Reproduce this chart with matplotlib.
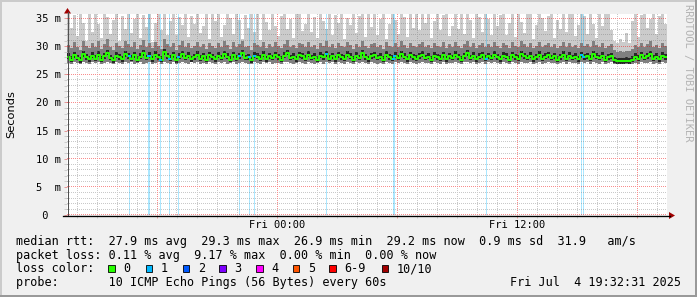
import numpy as np
import matplotlib
matplotlib.use('Agg')
import matplotlib.pyplot as plt
from matplotlib.patches import Rectangle, Polygon
from matplotlib.lines import Line2D

plt.rcParams['font.family'] = ['DejaVu Sans Mono']

# ---------------- data ----------------
bin_hours = 0.15  # 9 minutes per smoke column
start_label = "Thu 13:30"

median_ms = [
    28.1,27.6,28.4,27.9,27.5,28.6,28.0,27.7,28.3,27.8,
    28.5,27.6,28.2,28.8,27.9,27.5,28.3,28.0,27.7,28.6,
    28.2,27.8,28.4,27.6,28.1,28.7,27.9,28.3,27.7,28.5,
    28.0,27.6,28.9,28.2,27.8,28.4,27.5,28.1,28.6,27.9,
    28.3,27.7,28.0,28.5,27.8,28.2,27.6,28.4,28.0,27.7,
    28.3,27.9,28.6,28.1,27.6,28.4,27.8,28.2,28.7,27.9,
    28.0,27.5,28.3,28.1,27.8,28.5,27.7,28.2,27.9,28.4,
    28.0,27.6,28.3,28.8,27.9,28.1,27.7,28.4,28.2,27.8,
    28.5,27.9,28.1,27.6,28.3,28.0,28.6,27.8,28.2,27.7,
    28.4,28.0,27.8,28.5,28.1,27.6,28.3,27.9,28.7,28.0,
    27.7,28.2,28.4,27.9,28.1,27.6,28.5,28.0,27.8,28.3,
    27.9,28.6,28.1,27.7,28.4,28.0,27.8,28.2,28.5,27.9,
    28.1,27.6,28.3,28.0,27.8,28.4,27.7,28.2,27.9,28.5,
    28.0,27.6,28.2,28.7,27.9,28.3,27.7,28.1,28.4,27.8,
    28.2,27.9,28.5,28.0,27.7,28.3,28.1,27.6,28.4,28.0,
    27.8,28.6,28.2,27.9,28.3,27.7,28.0,28.5,27.8,28.1,
    28.4,27.9,28.2,27.6,28.0,28.5,27.8,28.3,27.9,28.1,
    27.7,28.4,28.0,28.2,27.8,28.6,28.1,27.9,28.3,27.6,
    28.0,28.2,27.5,27.3,27.3,27.3,27.4,27.3,27.6,28.1,
    27.8,28.4,27.9,28.2,28.6,27.8,28.1,27.7,28.3,28.0,
]
min_ms = [
    27.0,26.9,27.1,27.0,26.8,27.2,27.0,26.9,27.1,27.0,
    27.1,26.9,27.0,27.2,27.0,26.8,27.1,27.0,26.9,27.2,
    27.0,27.1,26.9,27.0,27.2,26.9,27.0,27.1,26.8,27.0,
    27.1,26.9,27.2,27.0,26.9,27.1,26.8,27.0,27.2,27.0,
    26.9,27.1,27.0,27.2,26.9,27.0,26.8,27.1,27.0,26.9,
    27.1,27.0,27.2,26.9,27.0,27.1,26.9,27.0,27.2,27.0,
    26.9,26.8,27.1,27.0,26.9,27.2,27.0,27.1,26.9,27.0,
    27.0,26.9,27.1,27.2,27.0,26.9,27.0,27.1,27.0,26.9,
    27.2,27.0,26.9,27.0,27.1,26.9,27.2,27.0,27.1,26.9,
    27.1,27.0,26.9,27.2,27.0,26.8,27.1,27.0,27.2,27.0,
    26.9,27.1,27.0,26.9,27.0,26.8,27.1,27.0,26.9,27.1,
    27.0,27.2,27.0,26.9,27.1,27.0,26.9,27.0,27.2,27.0,
    27.0,26.8,27.1,27.0,26.9,27.1,26.9,27.0,27.0,27.2,
    27.0,26.9,27.1,27.2,27.0,27.1,26.9,27.0,27.1,26.9,
    27.1,27.0,27.2,27.0,26.9,27.1,27.0,26.8,27.1,27.0,
    26.9,27.2,27.0,27.0,27.1,26.9,27.0,27.2,26.9,27.0,
    27.1,27.0,27.0,26.8,27.0,27.2,26.9,27.1,27.0,27.0,
    26.9,27.1,27.0,27.1,26.9,27.2,27.0,26.9,27.1,26.8,
    27.0,27.1,26.9,26.9,26.9,26.9,26.9,26.9,26.9,27.0,
    26.9,27.1,27.0,27.0,27.2,26.9,27.0,26.9,27.1,27.0,
]
upper_ms = [
    30.2,29.6,30.8,29.9,29.4,31.0,30.1,29.7,30.5,29.8,
    30.9,29.5,30.3,31.2,29.8,29.4,30.6,30.0,29.6,30.9,
    30.4,29.8,30.7,29.5,30.2,31.1,29.9,30.5,29.6,30.8,
    30.0,29.5,31.3,30.4,29.8,30.6,29.4,30.2,30.9,29.9,
    30.5,29.7,30.1,30.8,29.8,30.3,29.5,30.6,30.0,29.7,
    30.5,29.9,30.9,30.2,29.5,30.7,29.8,30.3,31.0,29.9,
    30.1,29.4,30.5,30.2,29.8,30.8,29.6,30.3,29.9,30.7,
    30.0,29.6,30.4,31.1,29.9,30.2,29.7,30.6,30.3,29.8,
    30.8,29.9,30.2,29.5,30.5,30.0,30.9,29.8,30.3,29.7,
    30.6,30.0,29.8,30.8,30.2,29.5,30.4,29.9,31.0,30.1,
    29.7,30.3,30.6,29.9,30.2,29.5,30.8,30.0,29.8,30.5,
    29.9,30.9,30.2,29.7,30.6,30.0,29.8,30.3,30.8,29.9,
    30.2,29.6,30.5,30.0,29.8,30.7,29.7,30.3,29.9,30.8,
    30.0,29.6,30.3,31.0,29.9,30.5,29.7,30.2,30.6,29.8,
    30.3,29.9,30.8,30.0,29.7,30.5,30.2,29.6,30.7,30.0,
    29.8,30.9,30.3,29.9,30.5,29.7,30.0,30.8,29.8,30.2,
    30.6,29.9,30.3,29.6,30.0,30.8,29.8,30.5,29.9,30.2,
    29.7,30.6,30.0,30.3,29.8,30.9,30.2,29.9,30.5,29.6,
    30.0,30.3,29.4,29.0,29.1,29.0,29.2,29.1,29.5,30.2,
    29.8,30.6,29.9,30.3,30.9,29.8,30.2,29.7,30.5,30.0,
]
max_ms = [
    36.0,33.2,35.5,31.8,36.0,34.1,30.9,35.8,32.6,36.0,
    33.9,31.4,36.0,35.2,32.1,34.7,36.0,31.0,35.4,33.0,
    36.0,32.3,34.9,36.0,31.5,35.6,33.4,36.0,30.8,34.2,
    35.9,32.8,36.0,31.9,34.5,36.0,32.0,35.1,33.7,36.0,
    31.6,35.3,34.0,36.0,32.4,33.5,36.0,31.2,35.7,34.4,
    36.0,31.7,33.8,36.0,35.0,32.2,36.0,34.6,31.3,35.5,
    33.3,36.0,32.5,35.8,31.1,36.0,34.3,32.9,36.0,33.6,
    31.8,35.4,36.0,33.1,34.8,31.4,36.0,35.9,32.7,34.0,
    36.0,32.6,35.2,31.5,36.0,34.5,33.0,36.0,31.9,35.6,
    34.1,36.0,31.2,35.0,33.7,36.0,32.3,35.3,36.0,31.6,
    35.7,33.4,36.0,32.0,34.9,36.0,31.3,33.9,36.0,34.6,
    32.2,36.0,35.1,31.7,36.0,33.2,35.8,32.8,36.0,34.2,
    36.0,31.5,34.4,36.0,32.9,35.5,36.0,31.8,33.6,36.0,
    33.0,35.9,32.1,36.0,34.7,31.4,36.0,35.2,32.5,36.0,
    34.8,31.9,36.0,33.5,35.6,36.0,32.0,34.1,36.0,31.6,
    36.0,34.3,32.4,35.7,36.0,31.2,33.8,36.0,35.0,32.7,
    35.4,36.0,31.5,34.6,33.1,36.0,32.6,35.9,36.0,31.8,
    33.7,36.0,35.3,32.2,36.0,34.0,31.4,36.0,33.5,35.8,
    36.0,32.9,31.0,30.5,31.2,30.8,32.4,30.6,34.5,36.0,
    31.7,35.6,36.0,33.3,34.9,36.0,32.1,35.4,36.0,33.9,
]
# hours after Thu 13:30 at which 1 of 10 pings was lost
loss_hours = [3.10, 4.05, 4.10, 4.65, 5.10, 5.55, 8.60, 9.10, 9.35,
              12.95, 16.30, 16.35, 20.95, 25.70, 25.80]
loss_counts = [1] * len(loss_hours)

major_x_hours = [4.5, 10.5, 16.5, 22.5, 28.5]
major_x_labels = ['', 'Fri 00:00', '', 'Fri 12:00', '']
minor_x_hours = list(np.arange(0.5, 30, 1.0))
y_major = [0, 5, 10, 15, 20, 25, 30, 35]
y_labels = [' 0', '5  m', '10 m', '15 m', '20 m', '25 m', '30 m', '35 m']
y_minor = list(range(0, 36))

legend_rows = [
    "median rtt:  27.9 ms avg  29.3 ms max  26.9 ms min  29.2 ms now  0.9 ms sd  31.9   am/s",
    "packet loss: 0.11 % avg  9.17 % max  0.00 % min  0.00 % now",
    "loss color:",
    "probe:       10 ICMP Echo Pings (56 Bytes) every 60s",
]
loss_names = ['0', '1', '2', '3', '4', '5', '6-9', '10/10']
loss_colors = ['#26ff00', '#00b8ff', '#0059ff', '#7e00ff', '#ff00ff', '#ff5500', '#ff0000', '#a10000']
stamp = "Fri Jul  4 19:32:31 2025"

for arr in (median_ms, min_ms, upper_ms, max_ms):
    assert len(arr) == 200

# ---------------- figure ----------------
W, H = 697, 297
fig = plt.figure(figsize=(W / 100, H / 100), dpi=100)
fig.patch.set_facecolor('#f0f0f0')

L, R, T, B = 67, 667, 14, 215
AW, AH = R - L, B - T
ax = fig.add_axes([L / W, 1 - B / H, AW / W, AH / H])
ax.set_facecolor('white')
XMAX = 30
YMAX = 35 * AH / (B - 18)
ax.set_xlim(0, XMAX)
ax.set_ylim(0, YMAX)

n = len(median_ms)
edges = np.arange(n + 1) * bin_hours
ext = lambda a: np.append(np.asarray(a, float), a[-1])
med = np.asarray(median_ms)
lo, up, mx = ext(min_ms), ext(upper_ms), ext(max_ms)

ax.fill_between(edges, lo, mx, step='post', color='#cbcbcb', lw=0, zorder=1, antialiased=False)
for h, c in zip(loss_hours, loss_counts):
    ax.axvspan(h, h + 0.05, color=loss_colors[c], alpha=0.33, lw=0, zorder=1.2)
ax.fill_between(edges, lo, up, step='post', color='#808080', lw=0, zorder=1.4, antialiased=False)
CORE_LO, CORE_HI = 0.45, 0.6
ax.fill_between(edges, ext(med - CORE_LO), ext(med + CORE_HI), step='post', color='#282828',
                lw=0, zorder=1.6, antialiased=False)
ax.step(edges, ext(median_ms), where='post', color=loss_colors[0], lw=1.4, zorder=3)
for h, c in zip(loss_hours, loss_counts):
    i = int(h / bin_hours)
    ax.hlines(median_ms[i], h - 0.05, h + 0.1, color=loss_colors[c], lw=1.4, zorder=3.1)

# ---- crisp dotted grid rendered as a pixel raster (positions from the tick values) ----
grid = np.zeros((AH, AW, 4))
minor_rgba = (0.45, 0.45, 0.45, 0.38)   # translucent grey, RRDtool style
major_rgba = (0.95, 0.0, 0.0, 0.45)     # translucent red
def put_h(v, rgba):
    r = int(np.floor((YMAX - v) / YMAX * AH))
    r = min(max(r, 0), AH - 1)
    grid[r, 0::2] = rgba
def put_v(t, rgba):
    c = int(np.floor(t / XMAX * AW))
    c = min(max(c, 0), AW - 1)
    grid[AH - 1::-2, c] = rgba
for v in y_minor:
    if v not in y_major:
        put_h(v, minor_rgba)
for t in minor_x_hours:
    if t not in major_x_hours:
        put_v(t, minor_rgba)
for v in y_major:
    put_h(v, major_rgba)
for t in major_x_hours:
    put_v(t, major_rgba)
ax.imshow(grid, extent=(0, XMAX, 0, YMAX), aspect='auto', interpolation='nearest',
          zorder=2.5)
ax.set_xlim(0, XMAX)
ax.set_ylim(0, YMAX)

# ticks
ax.set_xticks(major_x_hours)
ax.set_xticklabels(major_x_labels, fontsize=7.5)
ax.set_xticks(minor_x_hours, minor=True)
ax.set_yticks(y_major)
ax.set_yticklabels(y_labels, fontsize=7.5)
ax.set_yticks(y_minor, minor=True)
ax.tick_params(axis='x', which='both', direction='out', length=2, width=0.72, pad=1.8)
ax.tick_params(axis='x', which='minor', color='#cccccc')
ax.tick_params(axis='x', which='major', color='#e39a9a')
ax.tick_params(axis='y', which='both', direction='out', length=2, width=0.72, pad=20.3)
ax.tick_params(axis='y', which='minor', color='#cccccc')
ax.tick_params(axis='y', which='major', color='#e39a9a')
for lab in ax.get_yticklabels():
    lab.set_ha('left')
for s in ax.spines.values():
    s.set_visible(False)

# ---------------- overlay in pixel coords ----------------
ov = fig.add_axes([0, 0, 1, 1], zorder=10)
ov.set_xlim(0, W)
ov.set_ylim(H, 0)
ov.axis('off')
ov.patch.set_alpha(0)

px = 0.72
ov.add_line(Line2D([67.5, 67.5], [215, 12], color='#505050', lw=px))
ov.add_line(Line2D([63, 670], [215.5, 215.5], color='black', lw=1.3 * px))
ov.add_patch(Polygon([(64, 13.5), (71, 13.5), (67.5, 8)], closed=True, color='#a00000', lw=0))
ov.add_patch(Polygon([(669, 212), (669, 219), (675, 215.5)], closed=True, color='#a00000', lw=0))

# frame
ov.add_line(Line2D([0, W], [1, 1], color='#cbcbcb', lw=2 * px))
ov.add_line(Line2D([1, 1], [0, H], color='#cbcbcb', lw=2 * px))
ov.add_line(Line2D([W - 1, W - 1], [0, H], color='#999999', lw=2 * px))
ov.add_line(Line2D([0, W], [H - 1, H - 1], color='#999999', lw=2 * px))

ov.text(11, 114, 'Seconds', rotation=90, ha='center', va='center', fontsize=8.2,
        family='DejaVu Sans')
ov.text(688, 4, 'RRDTOOL / TOBI OETIKER', rotation=-90, ha='center', va='top', fontsize=7.5,
        color='#b4b4b4')

fs = 8.5
base = [245, 259, 272.5, 286]
for row, yb in zip(legend_rows, base):
    ov.text(16, yb, row, fontsize=fs, ha='left', va='baseline')
box_x = [108.3, 145.7, 182.7, 219.3, 256, 292.7, 329.3, 381.7]
for bx, name, col in zip(box_x, loss_names, loss_colors):
    ov.add_patch(Rectangle((bx, 265), 6.7, 7, facecolor=col, edgecolor='black', lw=0.6))
    ov.text(bx + 15, base[2], name, fontsize=fs, ha='left', va='baseline')
ov.text(681, base[3], stamp, fontsize=fs, ha='right', va='baseline')

fig.savefig('out.png', dpi=100, facecolor=fig.get_facecolor())
